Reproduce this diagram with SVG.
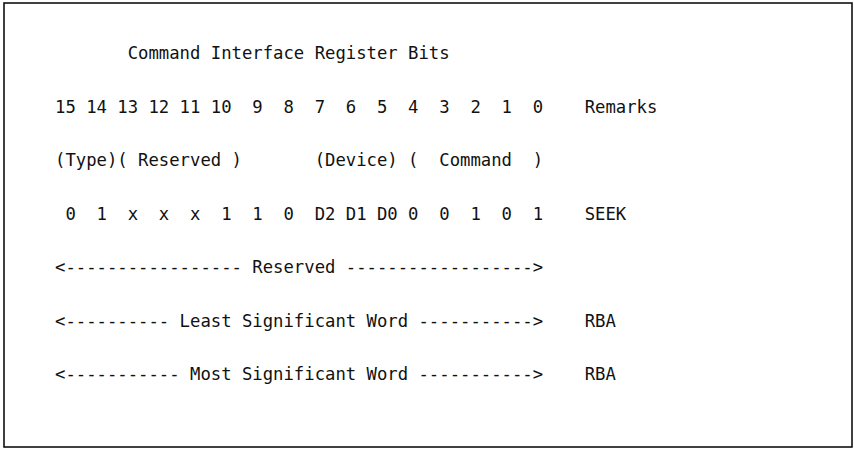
<svg xmlns="http://www.w3.org/2000/svg" width="854" height="449" viewBox="0 0 854 449">
<style>
.t{font-family:"DejaVu Sans Mono","Liberation Mono",monospace;font-size:17.25px;fill:#111;white-space:pre}
</style>
<rect x="0" y="0" width="854" height="449" fill="#fff"/>
<rect id="frame" x="4" y="3" width="848" height="444" fill="none" stroke="#111" stroke-width="1.6"/>
<g id="title"><text class="t" x="55" y="59" xml:space="preserve">       Command Interface Register Bits</text></g>
<g id="bits"><text class="t" x="55" y="112.5" xml:space="preserve">15 14 13 12 11 10  9  8  7  6  5  4  3  2  1  0    Remarks</text></g>
<g id="fields"><text class="t" x="55" y="166" xml:space="preserve">(Type)( Reserved )       (Device) (  Command  )</text></g>
<g id="seek"><text class="t" x="55" y="219.5" xml:space="preserve"> 0  1  x  x  x  1  1  0  D2 D1 D0 0  0  1  0  1    SEEK</text></g>
<g id="reserved"><text class="t" x="55" y="273" xml:space="preserve">&lt;----------------- Reserved ------------------&gt;</text></g>
<g id="lsw"><text class="t" x="55" y="326.5" xml:space="preserve">&lt;---------- Least Significant Word -----------&gt;    RBA</text></g>
<g id="msw"><text class="t" x="55" y="380" xml:space="preserve">&lt;----------- Most Significant Word -----------&gt;    RBA</text></g>
</svg>
